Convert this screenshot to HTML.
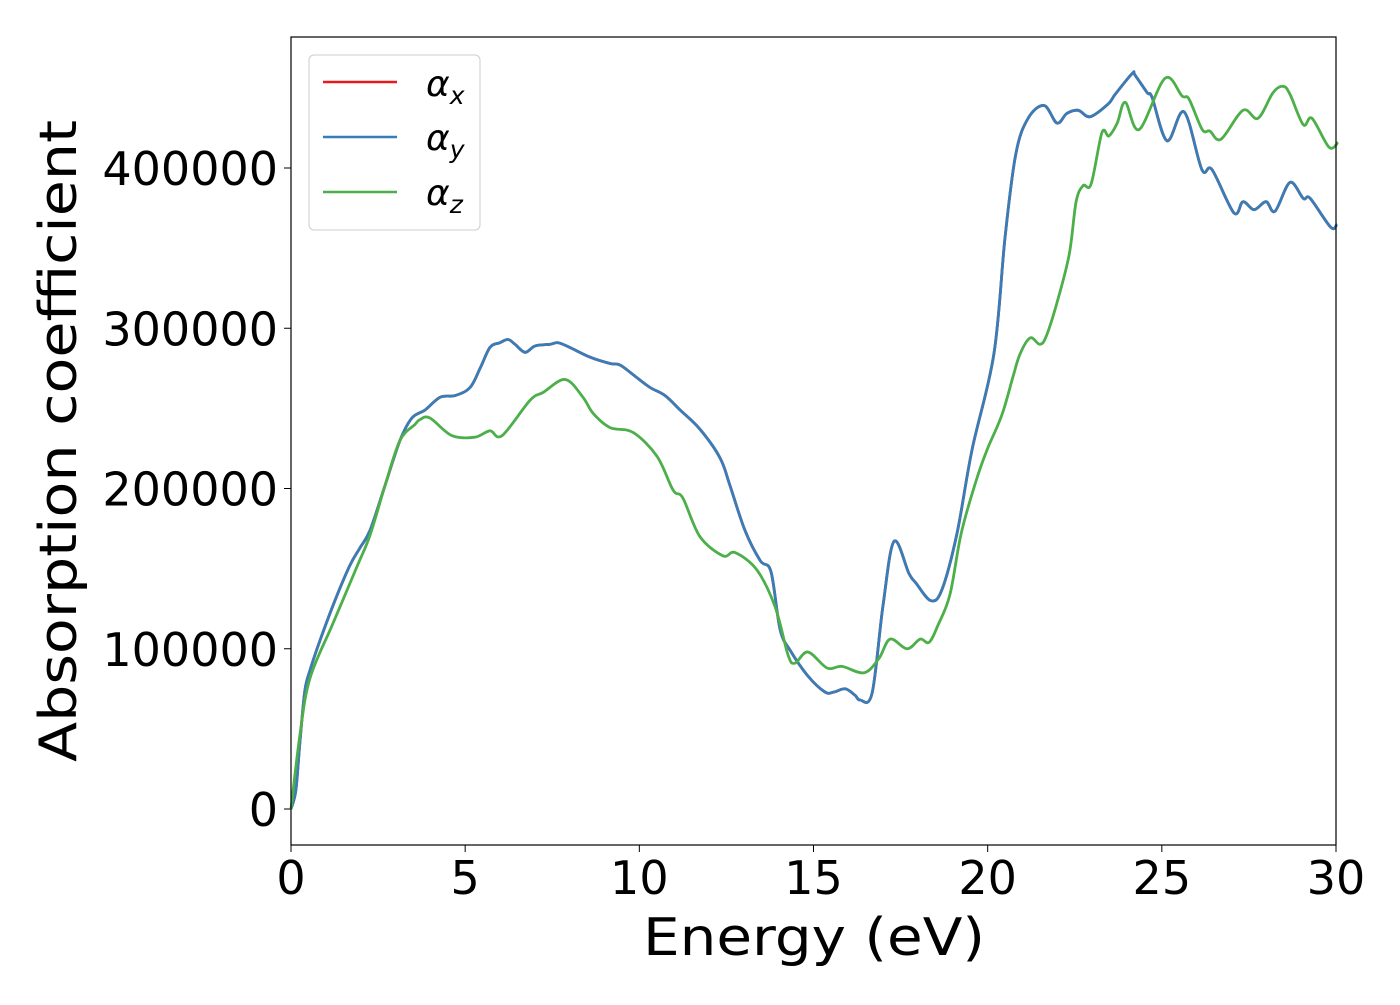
<!DOCTYPE html>
<html><head><meta charset="utf-8"><style>
body{margin:0;background:#fff;}
svg text{font-family:"DejaVu Sans","Liberation Sans",sans-serif;}
</style></head><body>
<svg id="chart" width="1400" height="1000" xmlns="http://www.w3.org/2000/svg">
<rect width="1400" height="1000" fill="#fff"/>
<g id="axes"></g>
<g id="series"></g>
<rect x="291" y="37" width="1045" height="808" fill="none" stroke="#000" stroke-width="1.2"/>
<text x="814" y="955" font-size="52" text-anchor="middle" textLength="342" lengthAdjust="spacingAndGlyphs">Energy (eV)</text>
<text transform="translate(76,441) rotate(-90)" font-size="52" text-anchor="middle" textLength="642" lengthAdjust="spacingAndGlyphs">Absorption coefficient</text>
<g>
<rect x="309" y="55" width="171" height="175" rx="5" fill="#fff" fill-opacity="0.8" stroke="#ccc" stroke-width="1"/>
<g><line x1="323" y1="82" x2="397" y2="82" stroke="#e41a1c" stroke-width="2.5"/><text x="426" y="96" font-size="36" font-style="italic">α<tspan font-size="25" dy="8">x</tspan></text></g>
<g><line x1="323" y1="137" x2="397" y2="137" stroke="#377eb8" stroke-width="2.5"/><text x="426" y="150" font-size="36" font-style="italic">α<tspan font-size="25" dy="8">y</tspan></text></g>
<g><line x1="323" y1="192" x2="397" y2="192" stroke="#4daf4a" stroke-width="2.5"/><text x="426" y="205" font-size="36" font-style="italic">α<tspan font-size="25" dy="8">z</tspan></text></g>
</g>
</svg>
<script>
const xTicks=[0,5,10,15,20,25,30];
const yTicks=[0,100000,200000,300000,400000];
const energyXY=[0,0.14,0.26,0.40,0.55,0.83,1.26,1.69,1.98,2.27,2.70,3.13,3.47,3.85,4.28,4.71,5.14,5.43,5.71,6.00,6.23,6.43,6.72,7.01,7.44,7.67,8.01,8.58,9.16,9.45,9.88,10.31,10.74,11.17,11.74,12.32,12.60,13.03,13.47,13.78,14.04,14.33,14.84,15.33,15.59,15.91,16.19,16.34,16.68,16.99,17.31,17.74,17.94,18.37,18.69,19.12,19.55,20.18,20.50,20.81,21.16,21.62,21.99,22.27,22.60,22.94,23.46,23.66,24.15,24.23,24.58,24.72,25.15,25.64,26.15,26.44,27.07,27.33,27.65,27.99,28.25,28.68,29.06,29.26,29.85,30.03];
const alphaY=[0,11.9,43,74,87,105,130,152,163,174,202,230,244,249,257,258,263,275,288,291,293,290,285,289,290,291,288,282,278,277,270,263,258,249,237,219,202,174,155,148,112,99,83,73,73,75,71,68,72,126,167,147,141,130,137,172,224,284,357,409,431,439,428,434,436,432,440,446,459,458,447,444,417,435,399,399,372,379,374,379,373,391,381,381,363,365];
const alphaX=alphaY.slice();
const energyZ=[0,0.26,0.55,1.21,1.89,2.27,2.70,3.13,3.56,3.70,3.99,4.62,5.28,5.71,6.06,6.86,7.24,7.87,8.38,8.67,9.16,9.82,10.51,10.97,11.25,11.74,12.40,12.75,13.38,13.90,14.27,14.47,14.84,15.39,15.82,16.45,16.88,17.20,17.69,18.06,18.32,18.58,18.92,19.24,19.67,19.98,20.41,20.73,20.93,21.22,21.50,21.68,21.99,22.34,22.54,22.74,22.97,23.28,23.48,23.72,23.95,24.35,25.09,25.58,25.78,26.16,26.38,26.70,27.33,27.76,28.19,28.48,28.68,29.06,29.31,29.80,30.06];
const alphaZ=[0,47,82,116,151,171,202,230,240,243,244,233,232,236,233,255,260,268,257,247,238,235,220,199,194,170,158,160,149,126,96,91,98,88,89,85,94,106,100,106,104,115,134,172,205,224,246,270,284,294,290,295,316,346,379,389,390,422,420,428,441,424,456,445,443,424,423,418,436,431,447,451,446,427,431,413,416];
const X0=291,X1=1336,Y0=809,PXPER=160.25/100000;
const sx=e=>X0+(e-0)*(X1-X0)/30;
const sy=v=>Y0-v*PXPER;
const NS="http://www.w3.org/2000/svg";
const axes=document.getElementById('axes');
xTicks.forEach(t=>{
 const l=document.createElementNS(NS,'line');
 
 
 l.setAttribute('x1',sx(t));l.setAttribute('x2',sx(t));l.setAttribute('y1',845);l.setAttribute('y2',852);l.setAttribute('stroke','#000');
 axes.appendChild(l);
 const tx=document.createElementNS(NS,'text');
 
 
 tx.setAttribute('x',sx(t));tx.setAttribute('y',894);tx.setAttribute('font-size','46');tx.setAttribute('text-anchor','middle');
 tx.textContent=t;axes.appendChild(tx);
});
yTicks.forEach(t=>{
 const l=document.createElementNS(NS,'line');
 
 
 l.setAttribute('x1',284);l.setAttribute('x2',291);l.setAttribute('y1',sy(t));l.setAttribute('y2',sy(t));l.setAttribute('stroke','#000');
 axes.appendChild(l);
 const tx=document.createElementNS(NS,'text');
 
 
 tx.setAttribute('x',278);tx.setAttribute('y',sy(t)+17);tx.setAttribute('font-size','46');tx.setAttribute('text-anchor','end');
 tx.textContent=t;axes.appendChild(tx);
});
const ser=document.getElementById('series');
function draw(E,V,color,name){
 const P=E.map((e,i)=>[sx(e),sy(V[i]*1000)]);
 let d='M'+P[0][0].toFixed(1)+','+P[0][1].toFixed(1);
 for(let i=0;i<P.length-1;i++){
  const p0=P[Math.max(0,i-1)],p1=P[i],p2=P[i+1],p3=P[Math.min(P.length-1,i+2)];
  const c1=[p1[0]+(p2[0]-p0[0])/6,p1[1]+(p2[1]-p0[1])/6];
  const c2=[p2[0]-(p3[0]-p1[0])/6,p2[1]-(p3[1]-p1[1])/6];
  d+=' C'+c1[0].toFixed(1)+','+c1[1].toFixed(1)+' '+c2[0].toFixed(1)+','+c2[1].toFixed(1)+' '+p2[0].toFixed(1)+','+p2[1].toFixed(1);
 }
 const p=document.createElementNS(NS,'path');
 
 
 p.setAttribute('d',d);p.setAttribute('fill','none');p.setAttribute('stroke',color);p.setAttribute('stroke-width','2.8');p.setAttribute('stroke-linejoin','round');
 ser.appendChild(p);
}
draw(energyXY,alphaX,'#e41a1c','line-alpha-x');
draw(energyXY,alphaY,'#377eb8','line-alpha-y');
draw(energyZ,alphaZ,'#4daf4a','line-alpha-z');
</script>
</body></html>
